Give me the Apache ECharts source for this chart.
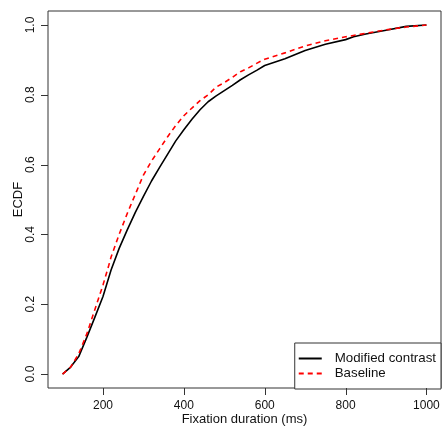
<!DOCTYPE html>
<html>
<head>
<meta charset="utf-8">
<script src="https://cdn.jsdelivr.net/npm/echarts@6/dist/echarts.min.js"></script>
<style>
html,body{margin:0;padding:0;background:#fff;}
#chart{width:443px;height:427px;}
</style>
</head>
<body>
<div id="chart"></div>
<script>
// Fixation duration (ms) grid where ECDF values were read
const durModified = [100,103,120,140,160,180,200,220,240,260,280,300,320,340,360,380,400,420,440,460,480,500,520,540,560,580,600,650,700,750,800,820,850,900,950,1000];
const ecdfModified = [0.0,0.0,0.02,0.05,0.105,0.163,0.222,0.298,0.36,0.413,0.463,0.509,0.553,0.592,0.63,0.668,0.70,0.73,0.757,0.78,0.797,0.812,0.827,0.843,0.857,0.87,0.884,0.903,0.927,0.945,0.958,0.966,0.974,0.985,0.996,1.0];

const durBaseline = [100,120,140,160,180,200,214,220,240,260,280,300,320,340,360,380,400,420,440,460,480,500,520,540,560,580,600,650,700,750,800,850,900,950,1000];
const ecdfBaseline = [0.0,0.02,0.058,0.115,0.185,0.255,0.31,0.335,0.40,0.46,0.515,0.57,0.61,0.645,0.68,0.712,0.74,0.762,0.783,0.80,0.822,0.835,0.85,0.866,0.877,0.89,0.902,0.92,0.94,0.955,0.966,0.976,0.986,0.994,1.0];

const xTicks = [200,400,600,800,1000];
const yTicks = [0,0.2,0.4,0.6,0.8,1.0];
const seriesNames = ['Modified contrast','Baseline'];

const X_MIN = 64, X_MAX = 1036, Y_MIN = -0.04, Y_MAX = 1.04;
const TICK_LEN = 7;
const FONT = 'Liberation Sans, Arial, Helvetica, sans-serif';

const chart = echarts.init(document.getElementById('chart'));
chart.setOption({
  animation: false,
  backgroundColor: '#fff',
  grid: {left: 48, right: 2, top: 11, bottom: 39, outerBoundsMode: 'none', containLabel: false,
    show: true, borderColor: '#333', borderWidth: 1, backgroundColor: 'transparent'},
  xAxis: {
    type: 'value', min: X_MIN, max: X_MAX,
    axisLine: {show: false, onZero: false},
    splitLine: {show: false},
    axisTick: {show: false},
    axisLabel: {customValues: xTicks, margin: 12, fontSize: 12, color: '#111', fontFamily: FONT,
      formatter: v => String(v)},
    name: 'Fixation duration (ms)', nameLocation: 'middle', nameGap: 25, nameMoveOverlap: false,
    nameTextStyle: {fontSize: 13, color: '#111', fontFamily: FONT}
  },
  yAxis: {
    type: 'value', min: Y_MIN, max: Y_MAX,
    axisLine: {show: false, onZero: false},
    splitLine: {show: false},
    axisTick: {show: false},
    axisLabel: {customValues: yTicks, rotate: 90, margin: 11, fontSize: 12, color: '#111', fontFamily: FONT,
      formatter: v => v.toFixed(1)},
    name: 'ECDF', nameLocation: 'middle', nameGap: 23, nameRotate: 90, nameMoveOverlap: false,
    nameTextStyle: {fontSize: 13, color: '#111', fontFamily: FONT}
  },
  legend: {
    data: seriesNames,
    orient: 'vertical', right: 2, bottom: 38,
    backgroundColor: '#fff', borderColor: '#333', borderWidth: 1,
    padding: [9, 5, 9, 3], itemGap: 2, itemWidth: 23, itemHeight: 14,
    itemStyle: {color: 'transparent', borderColor: 'transparent', borderWidth: 0},
    textStyle: {fontSize: 13.3, color: '#111', fontFamily: FONT, padding: [0, 0, 0, 8]}
  },
  series: [
    {name: seriesNames[0], type: 'line', showSymbol: false, symbol: 'none',
     data: durModified.map((d, i) => [d, ecdfModified[i]]),
     lineStyle: {color: '#000', width: 1.6}, itemStyle: {color: '#000'}},
    {name: seriesNames[1], type: 'line', showSymbol: false, symbol: 'none',
     data: durBaseline.map((d, i) => [d, ecdfBaseline[i]]),
     lineStyle: {color: '#ff0000', width: 1.6, type: [5, 4]}, itemStyle: {color: '#ff0000'}}
  ]
});

// Axis tick marks placed through the chart's own scales
const tickEls = [];
xTicks.forEach(v => {
  const p = chart.convertToPixel({gridIndex: 0}, [v, Y_MIN]);
  tickEls.push({type: 'line', z: 100, silent: true,
    shape: {x1: Math.round(p[0]) + 0.5, y1: p[1], x2: Math.round(p[0]) + 0.5, y2: p[1] + TICK_LEN},
    style: {stroke: '#333', lineWidth: 1}});
});
yTicks.forEach(v => {
  const p = chart.convertToPixel({gridIndex: 0}, [X_MIN, v]);
  tickEls.push({type: 'line', z: 100, silent: true,
    shape: {x1: p[0] - TICK_LEN, y1: Math.round(p[1]) + 0.5, x2: p[0], y2: Math.round(p[1]) + 0.5},
    style: {stroke: '#333', lineWidth: 1}});
});
chart.setOption({graphic: {elements: tickEls}});
</script>
</body>
</html>
